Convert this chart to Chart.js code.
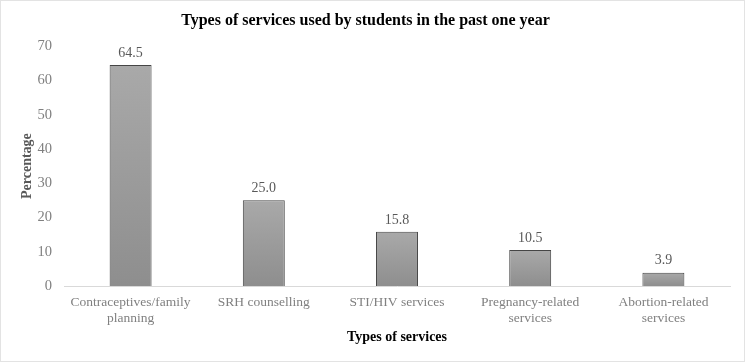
<!DOCTYPE html>
<html>
<head>
<meta charset="utf-8">
<script src="https://cdn.jsdelivr.net/npm/chart.js@4/dist/chart.umd.min.js"></script>
<style>
  html, body { margin: 0; padding: 0; background: #ffffff; }
  #wrap { position: relative; width: 745px; height: 362px; box-sizing: border-box; border: 1px solid #e3e3e3; }
</style>
</head>
<body>
<div id="wrap"><canvas id="c"></canvas></div>
<script>
const chartTitle = "Types of services used by students in the past one year";
const categories = [
  ["Contraceptives/family", "planning"],
  "SRH counselling",
  "STI/HIV services",
  ["Pregnancy-related", "services"],
  ["Abortion-related", "services"]
];
const percentages = [64.5, 25.0, 15.8, 10.5, 3.9];
const yTicks = [0, 10, 20, 30, 40, 50, 60, 70];
const xAxisTitle = "Types of services";
const yAxisTitle = "Percentage";

const serif = "'Liberation Serif', 'Times New Roman', serif";

const dataLabels = {
  id: 'dataLabels',
  afterDatasetsDraw(chart) {
    const ctx = chart.ctx;
    const meta = chart.getDatasetMeta(0);
    ctx.save();
    ctx.font = "14px " + serif;
    ctx.fillStyle = "#595959";
    ctx.textAlign = "center";
    ctx.textBaseline = "middle";
    meta.data.forEach((bar, i) => {
      ctx.fillText(percentages[i].toFixed(1), bar.x, bar.y - 12);
    });
    ctx.restore();
  }
};

new Chart(document.getElementById('c'), {
  type: 'bar',
  data: {
    labels: categories,
    datasets: [{
      data: percentages,
      // per-bar vertical gradient: lighter at the top, darker at the base
      backgroundColor(c) {
        const ys = c.chart.scales && c.chart.scales.y;
        if (!ys || c.raw == null || !isFinite(ys.getPixelForValue(0))) return '#9c9c9c';
        const top = ys.getPixelForValue(c.raw);
        const base = ys.getPixelForValue(0);
        if (!isFinite(top) || top === base) return '#9c9c9c';
        const g = c.chart.ctx.createLinearGradient(0, top, 0, base);
        g.addColorStop(0, '#a9a9a9');
        g.addColorStop(1, '#8e8e8e');
        return g;
      },
      borderColor: '#454545',
      borderWidth: 1,
      barPercentage: 0.63,
      categoryPercentage: 0.5
    }]
  },
  options: {
    responsive: true,
    maintainAspectRatio: false,
    animation: false,
    layout: { padding: { left: 0, right: 14, top: 0, bottom: 0 } },
    plugins: {
      legend: { display: false },
      tooltip: { enabled: false },
      title: {
        display: true,
        text: chartTitle,
        color: '#000000',
        font: { family: serif, size: 16, weight: 'bold' },
        padding: { top: 10, bottom: 16 }
      }
    },
    scales: {
      x: {
        grid: { display: false, drawTicks: false },
        border: { display: true, color: '#d9d9d9', width: 1 },
        ticks: {
          color: '#808080',
          font: { family: serif, size: 13.5 },
          padding: 8,
          maxRotation: 0,
          autoSkip: false
        },
        title: {
          display: true,
          text: xAxisTitle,
          color: '#000000',
          font: { family: serif, size: 14, weight: 'bold' },
          padding: { top: 4, bottom: 15 }
        },
        afterFit(scale) { scale.height = 75; }
      },
      y: {
        min: 0,
        max: 70,
        grid: { display: false, drawTicks: false },
        border: { display: false },
        afterBuildTicks(scale) { scale.ticks = yTicks.map(v => ({ value: v })); },
        ticks: {
          color: '#808080',
          font: { family: serif, size: 14.5 },
          padding: 12
        },
        title: {
          display: true,
          text: yAxisTitle,
          color: '#595959',
          font: { family: serif, size: 14, weight: 'bold' },
          padding: { top: 18, bottom: 0 }
        },
        afterFit(scale) { scale.width = 63; }
      }
    }
  },
  plugins: [dataLabels]
});
</script>
</body>
</html>
